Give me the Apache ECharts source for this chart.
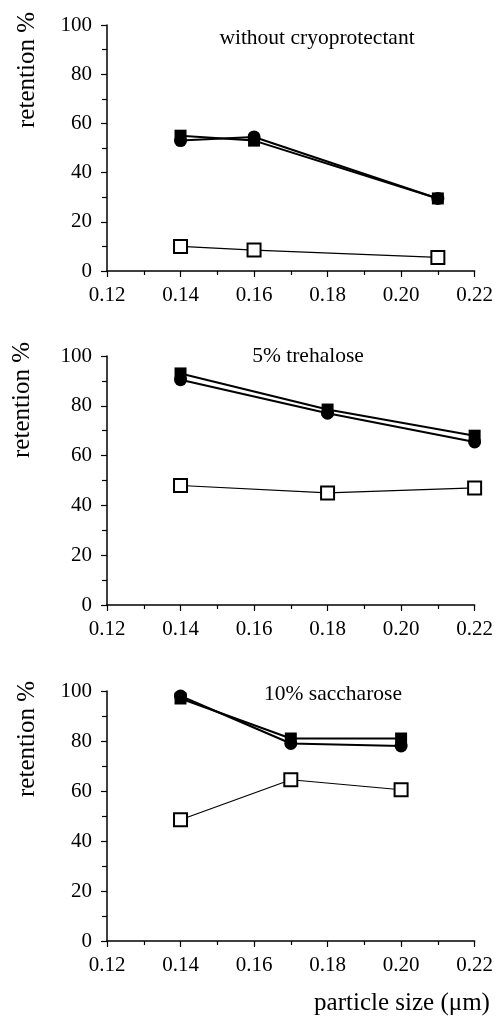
<!DOCTYPE html>
<html>
<head>
<meta charset="utf-8">
<script src="https://cdn.jsdelivr.net/npm/echarts@6/dist/echarts.min.js"></script>
<style>
  html, body { margin: 0; padding: 0; background: #fff; }
  #chart { width: 496px; height: 1016px; }
</style>
</head>
<body>
<div id="chart"></div>
<script>
// 数据
var xTicks = [0.12, 0.14, 0.16, 0.18, 0.20, 0.22];

var x1 = [0.14, 0.16, 0.21];
var sq1 = [55, 53, 29.5];
var dot1 = [53, 54.5, 29.5];
var open1 = [10, 8.5, 5.5];

var x2 = [0.14, 0.18, 0.22];
var sq2 = [93, 78.5, 68];
var dot2 = [90.5, 77, 65.5];
var open2 = [48, 45, 47];

var x3 = [0.14, 0.17, 0.20];
var sq3 = [97, 81, 81];
var dot3 = [98, 79, 78];
var open3 = [48.5, 64.5, 60.5];

var titles = ['without cryoprotectant', '5% trehalose', '10% saccharose'];

var FONT = '"Liberation Serif", "DejaVu Serif", serif';
var myChart = echarts.init(document.getElementById('chart'));

function pairs(xs, ys) {
    return xs.map(function (x, i) { return [x, ys[i]]; });
}

// 三个面板的位置
var grids = [
    { left: 107, top: 25, width: 370, height: 246 },
    { left: 107, top: 356, width: 369, height: 249 },
    { left: 107, top: 691, width: 371, height: 250 }
];

function xAxisFor(i) {
    return {
        type: 'value', gridIndex: i,
        min: xTicks[0], max: xTicks[xTicks.length - 1], interval: 0.02,
        axisLine: { lineStyle: { color: '#000', width: 1.5 } },
        axisTick: { length: 6, lineStyle: { color: '#000', width: 1.2 } },
        minorTick: { show: true, splitNumber: 2, length: 4, lineStyle: { color: '#000', width: 1.2 } },
        splitLine: { show: false },
        axisLabel: {
            color: '#000', fontFamily: FONT, fontSize: 21, margin: 14,
            formatter: function (v) { return v.toFixed(2); }
        }
    };
}

function yAxisFor(i) {
    return {
        type: 'value', gridIndex: i,
        min: 0, max: 100, interval: 20,
        axisLine: { show: true, lineStyle: { color: '#000', width: 1.5 } },
        axisTick: { show: true, length: 6, lineStyle: { color: '#000', width: 1.2 } },
        minorTick: { show: true, splitNumber: 2, length: 5, lineStyle: { color: '#000', width: 1.2 } },
        splitLine: { show: false },
        axisLabel: { color: '#000', fontFamily: FONT, fontSize: 21, margin: 15 }
    };
}

function panelSeries(i, xs, sq, dot, open) {
    return [
        {
            type: 'line', xAxisIndex: i, yAxisIndex: i,
            data: pairs(xs, open),
            symbol: 'rect', symbolSize: 13,
            itemStyle: { color: '#fff', borderColor: '#000', borderWidth: 2 },
            lineStyle: { color: '#000', width: 1.2 }
        },
        {
            type: 'line', xAxisIndex: i, yAxisIndex: i,
            data: pairs(xs, sq),
            symbol: 'rect', symbolSize: 12,
            itemStyle: { color: '#000' },
            lineStyle: { color: '#000', width: 2 }
        },
        {
            type: 'line', xAxisIndex: i, yAxisIndex: i,
            data: pairs(xs, dot),
            symbol: 'circle', symbolSize: 13,
            itemStyle: { color: '#000' },
            lineStyle: { color: '#000', width: 2 }
        }
    ];
}

// 文字: 纵轴名称、面板标题、横轴名称
var yNamePos = [[27, 70], [22, 400], [27, 739]];
var titlePos = [[317, 38], [308, 356], [333, 694]];
var graphics = [];
yNamePos.forEach(function (p) {
    graphics.push({
        type: 'text', x: p[0], y: p[1], rotation: Math.PI / 2,
        style: {
            text: 'retention %', font: '25px ' + FONT, fill: '#000',
            textAlign: 'center', textVerticalAlign: 'middle'
        }
    });
});
titlePos.forEach(function (p, i) {
    graphics.push({
        type: 'text', x: p[0], y: p[1],
        style: {
            text: titles[i], font: '21.5px ' + FONT, fill: '#000',
            textAlign: 'center', textVerticalAlign: 'middle'
        }
    });
});
graphics.push({
    type: 'text', x: 402, y: 1003,
    style: {
        text: 'particle size (\u03bcm)', font: '25px ' + FONT, fill: '#000',
        textAlign: 'center', textVerticalAlign: 'middle'
    }
});

var option = {
    backgroundColor: '#fff',
    animation: false,
    grid: grids,
    xAxis: [xAxisFor(0), xAxisFor(1), xAxisFor(2)],
    yAxis: [yAxisFor(0), yAxisFor(1), yAxisFor(2)],
    series: []
        .concat(panelSeries(0, x1, sq1, dot1, open1))
        .concat(panelSeries(1, x2, sq2, dot2, open2))
        .concat(panelSeries(2, x3, sq3, dot3, open3)),
    graphic: graphics
};

option && myChart.setOption(option);
</script>
</body>
</html>
